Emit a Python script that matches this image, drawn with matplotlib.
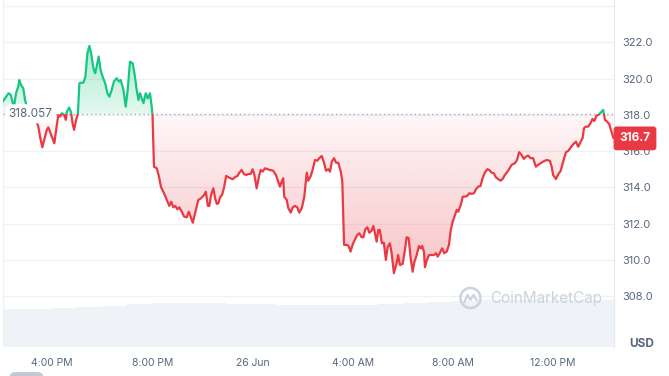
import matplotlib
matplotlib.use("Agg")
import matplotlib.pyplot as plt
import numpy as np
from matplotlib.patches import PathPatch, Rectangle, FancyBboxPatch, Ellipse
from matplotlib.lines import Line2D
import matplotlib.transforms as mtransforms

plt.rcParams['font.family'] = ['Inter', 'DejaVu Sans']

# hours since 25 Jun 00:00
hours = [
    14.03, 14.12, 14.26, 14.35, 14.43, 14.48, 14.56, 14.65, 14.69, 14.76, 14.85, 14.92, 14.99,
    15.12, 15.28, 15.45, 15.53, 15.61, 15.72, 15.79, 15.85, 15.99, 16.09, 16.19, 16.25, 16.32,
    16.39, 16.48, 16.55, 16.59, 16.68, 16.75, 16.83, 16.88, 16.96, 17.03, 17.09, 17.16, 17.25,
    17.33, 17.41, 17.49, 17.56, 17.65, 17.72, 17.78, 17.86, 17.94, 18.02, 18.12, 18.21, 18.29,
    18.38, 18.47, 18.58, 18.67, 18.74, 18.85, 18.94, 19.02, 19.11, 19.22, 19.31, 19.38, 19.45,
    19.51, 19.58, 19.65, 19.74, 19.82, 19.91, 19.98, 20.01, 20.07, 20.18, 20.27, 20.35, 20.47,
    20.58, 20.68, 20.76, 20.84, 20.92, 21.00, 21.08, 21.18, 21.27, 21.38, 21.46, 21.54, 21.62,
    21.71, 21.84, 21.95, 22.07, 22.14, 22.22, 22.28, 22.35, 22.44, 22.51, 22.58, 22.64, 22.71,
    22.79, 22.87, 22.95, 23.04, 23.13, 23.21, 23.30, 23.40, 23.48, 23.57, 23.66, 23.74, 23.84,
    23.93, 24.01, 24.08, 24.17, 24.26, 24.33, 24.41, 24.50, 24.61, 24.70, 24.83, 24.94, 25.03,
    25.10, 25.17, 25.23, 25.27, 25.37, 25.43, 25.53, 25.61, 25.70, 25.79, 25.87, 25.97, 26.07,
    26.17, 26.23, 26.33, 26.41, 26.50, 26.59, 26.67, 26.77, 26.86, 26.94, 27.03, 27.10, 27.17,
    27.26, 27.34, 27.43, 27.53, 27.59, 27.66, 27.77, 27.84, 27.92, 28.00, 28.10, 28.19, 28.27,
    28.36, 28.43, 28.51, 28.59, 28.67, 28.76, 28.83, 28.89, 28.96, 29.03, 29.09, 29.17, 29.25,
    29.33, 29.40, 29.49, 29.56, 29.65, 29.76, 29.82, 29.89, 30.00, 30.09, 30.16, 30.24, 30.32,
    30.40, 30.46, 30.56, 30.65, 30.72, 30.78, 30.85, 30.89, 30.96, 31.05, 31.16, 31.25, 31.33,
    31.40, 31.49, 31.58, 31.66, 31.76, 31.85, 31.92, 32.00, 32.09, 32.16, 32.22, 32.32, 32.40,
    32.49, 32.58, 32.66, 32.75, 32.85, 32.93, 33.02, 33.11, 33.19, 33.28, 33.38, 33.46, 33.55,
    33.64, 33.72, 33.82, 33.91, 33.99, 34.08, 34.21, 34.35, 34.48, 34.57, 34.65, 34.75, 34.84,
    34.92, 35.01, 35.11, 35.21, 35.32, 35.41, 35.51, 35.61, 35.75, 35.88, 35.95, 36.01, 36.12,
    36.21, 36.31, 36.41, 36.52, 36.61, 36.71, 36.81, 36.92, 37.01, 37.08, 37.19, 37.24, 37.32,
    37.41, 37.50, 37.58, 37.65, 37.74, 37.85, 37.94, 38.01, 38.08, 38.17, 38.25, 38.34, 38.41,
]
price = [
    318.73, 318.91, 319.19, 319.10, 318.65, 318.45, 319.19, 319.55, 319.92, 319.65, 319.46, 318.82, 318.45,
    318.27, 318.05, 317.35, 316.72, 316.21, 316.80, 317.17, 317.31, 316.80, 316.43, 317.44, 317.99, 317.90,
    318.09, 317.99, 317.72, 318.17, 318.40, 318.17, 317.44, 317.17, 317.72, 318.05, 319.74, 319.77, 319.77,
    320.10, 321.39, 321.80, 321.39, 320.57, 320.29, 320.66, 321.21, 320.47, 320.10, 319.74, 319.19, 319.00,
    319.37, 319.83, 320.02, 319.83, 319.92, 319.37, 318.45, 319.37, 320.93, 320.84, 320.10, 319.37, 318.82,
    319.19, 318.91, 318.64, 319.19, 318.91, 319.19, 318.45, 317.99, 315.14, 315.05, 314.59, 314.01, 313.68,
    313.31, 312.98, 313.21, 312.90, 312.98, 312.79, 312.90, 312.66, 312.39, 312.35, 312.66, 312.35, 312.05,
    312.57, 313.31, 313.40, 313.58, 313.76, 312.98, 312.98, 313.58, 313.95, 313.40, 313.09, 313.12, 313.46,
    313.58, 314.01, 314.63, 314.56, 314.50, 314.45, 314.56, 314.63, 314.81, 314.96, 314.74, 314.68, 314.74,
    314.74, 315.00, 314.68, 313.95, 314.59, 314.96, 314.87, 315.05, 315.00, 314.96, 314.92, 314.68, 314.32,
    314.04, 314.32, 314.50, 313.49, 313.31, 312.87, 312.61, 312.90, 312.98, 312.90, 312.61, 312.85, 313.46,
    314.81, 314.37, 314.63, 315.00, 315.51, 315.47, 315.61, 315.73, 315.36, 314.92, 315.00, 314.87, 315.42,
    315.61, 315.36, 315.36, 314.87, 314.32, 310.83, 310.83, 310.77, 310.46, 310.83, 311.14, 311.38, 311.47,
    311.25, 311.25, 311.69, 311.80, 311.50, 311.61, 311.87, 311.50, 311.01, 311.65, 311.65, 310.92, 310.95,
    310.00, 310.70, 310.92, 310.37, 309.27, 309.82, 310.27, 309.72, 309.78, 310.55, 311.25, 311.20, 310.09,
    309.35, 309.85, 310.27, 310.77, 310.64, 310.77, 310.46, 309.60, 309.96, 310.27, 310.27, 310.27, 310.37,
    310.18, 310.40, 310.64, 310.37, 310.46, 310.83, 311.65, 312.11, 312.48, 312.76, 312.66, 313.03, 313.49,
    313.49, 313.53, 313.68, 313.64, 313.68, 313.90, 314.04, 314.08, 314.50, 314.81, 315.00, 314.96, 314.81,
    314.78, 314.56, 314.45, 314.37, 314.46, 314.68, 314.91, 315.24, 315.33, 315.51, 315.94, 315.79, 315.57,
    315.69, 315.75, 315.61, 315.61, 315.14, 315.24, 315.33, 315.42, 315.51, 315.46, 315.14, 314.68, 314.46,
    314.72, 314.91, 315.42, 315.94, 316.01, 316.19, 316.38, 316.52, 316.24, 316.43, 316.74, 317.26, 317.35,
    317.35, 317.53, 317.77, 317.66, 317.95, 318.03, 318.17, 318.27, 317.72, 317.62, 317.48, 317.07, 316.74,
]
open_price = 318.057
last_price = 316.7

# hourly volume (relative units)
vol_hours = list(range(14, 39))
volume = [37.7, 38.3, 38.7, 40.0, 41.0, 42.7, 43.7, 43.7, 43.7, 43.0, 43.0, 42.0, 42.0,
          42.0, 42.0, 43.0, 44.3, 45.3, 46.5, 47.0, 47.0, 47.0, 47.0, 47.0, 47.0]

tick_hours = [16, 20, 24, 28, 32, 36]
tick_labels = ["4:00 PM", "8:00 PM", "26 Jun", "4:00 AM", "8:00 AM", "12:00 PM"]
price_ticks = [308.0, 310.0, 312.0, 314.0, 316.0, 318.0, 320.0, 322.0]

GREEN = "#16c784"
RED = "#ea3943"
GREY = "#58667e"
GRID = "#eff2f5"

W, H = 669, 376
fig = plt.figure(figsize=(W / 100, H / 100), dpi=100)
pos = [2.5 / W, 29 / H, 611.5 / W, 347 / H]

# volume underneath
axv = fig.add_axes(pos)
axv.bar(vol_hours, volume, width=1.0, align='edge', color="#eff2f6", lw=0)
axv.set_xlim(14.02, 38.44)
axv.set_ylim(0, max(volume) * 7.4)
axv.axis('off')

ax = fig.add_axes(pos)
ax.patch.set_visible(False)
xmin, xmax = 14.02, 38.44
ymin, ymax = 305.2, 324.33

# gradient fills between price and open
fill = ax.fill_between(hours, price, open_price, color='none', lw=0)
clip = PathPatch(fill.get_paths()[0], transform=ax.transData, fc='none', ec='none')
ax.add_patch(clip)

n = 256
g = np.zeros((n, 1, 4))
g[:, 0, :3] = matplotlib.colors.to_rgb(GREEN)
g[:, 0, 3] = np.linspace(0.12, 0.38, n)
im = ax.imshow(g, extent=[xmin, xmax, open_price, 322.2], origin='lower',
               aspect='auto', zorder=2)
im.set_clip_path(clip)

r = np.zeros((n, 1, 4))
r[:, 0, :3] = matplotlib.colors.to_rgb(RED)
r[:, 0, 3] = np.linspace(0.30, 0.04, n)
im2 = ax.imshow(r, extent=[xmin, xmax, 309.2, open_price], origin='lower',
                aspect='auto', zorder=2)
im2.set_clip_path(clip)

# price line, green above open, red below
up, = ax.plot(hours, price, color=GREEN, lw=1.6, zorder=4, solid_joinstyle='round')
dn, = ax.plot(hours, price, color=RED, lw=1.6, zorder=4, solid_joinstyle='round')
up.set_clip_path(Rectangle((xmin, open_price), xmax - xmin, ymax - open_price,
                           transform=ax.transData))
dn.set_clip_path(Rectangle((xmin, ymin), xmax - xmin, open_price - ymin,
                           transform=ax.transData))

ax.axhline(open_price, color="#9aa3b2", lw=0.9, ls=(0, (1, 2.5)), zorder=3)

ax.set_xlim(xmin, xmax)
ax.set_ylim(ymin, ymax)

ax.yaxis.tick_right()
ax.set_yticks(price_ticks, [f"{v:.1f}" for v in price_ticks])
ax.set_yticks([324.0], minor=True)
ax.grid(axis='y', which='both', color=GRID, lw=1, zorder=0)
ax.tick_params(axis='y', which='both', length=0, pad=6, labelsize=8, labelcolor=GREY)
ax.set_xticks(tick_hours, tick_labels)
ax.tick_params(axis='x', length=0, pad=8, labelsize=7.5, labelcolor=GREY)
for s in ['top', 'bottom']:
    ax.spines[s].set_visible(False)
ax.spines['right'].set_color("#e6e9ee")
ax.spines['left'].set_color(GRID)

# open price label on the left
blend = mtransforms.blended_transform_factory(ax.transAxes, ax.transData)
ax.text(0.046, open_price, f"{open_price:.3f}", transform=blend, ha='center', va='center',
        fontsize=8.5, color=GREY, zorder=6,
        bbox=dict(boxstyle='round,pad=0.3,rounding_size=0.5', fc='white', ec='none'))

# last price badge on the right
ax.text(1.0343, last_price, f"{last_price:.1f}", transform=blend, ha='center', va='center',
        fontsize=8.5, fontweight='bold', color='white', zorder=6, clip_on=False,
        bbox=dict(boxstyle='round,pad=0.5,rounding_size=0.25', fc=RED, ec='none'))

fig.text(642 / W, 1 - 344 / H, "USD", ha='center', va='center', fontsize=8.5,
         fontweight='bold', color=GREY)

# watermark
wm = "#cdd3dd"
fig.text(490 / W, 1 - 298 / H, "CoinMarketCap", ha='left', va='center', fontsize=11,
         color=wm)
fig.add_artist(Ellipse((470.5 / W, 1 - 298 / H), 20 / W, 20 / H, fc='none', ec=wm, lw=1.8,
                       transform=fig.transFigure))
mx = np.array([-6, -3, 0, 3, 6]) + 470.5
my = 298 - np.array([-4, 3, -2, 3, -2])
fig.add_artist(Line2D(mx / W, 1 - my / H, color=wm, lw=1.6, transform=fig.transFigure))

# partial button at the bottom edge
fig.add_artist(FancyBboxPatch((10 / W, -6 / H), 33 / W, 10 / H,
                              boxstyle='round,pad=0,rounding_size=0.01',
                              fc="#c3c9d3", ec='none', transform=fig.transFigure))

fig.savefig("out.png", dpi=100)
